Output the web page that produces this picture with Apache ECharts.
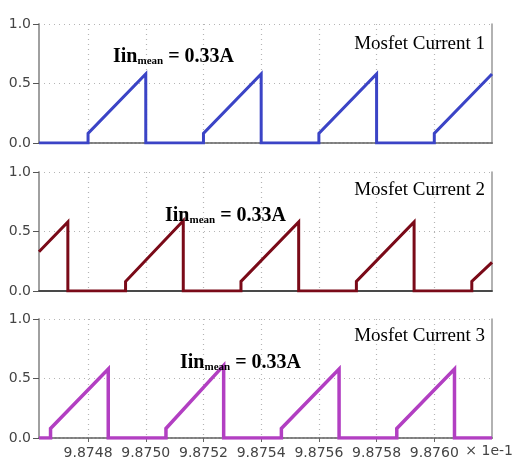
<!DOCTYPE html>
<html>
<head>
<meta charset="utf-8">
<script src="https://cdn.jsdelivr.net/npm/echarts@6/dist/echarts.min.js"></script>
<style>
  html, body { margin: 0; padding: 0; background: #fff; }
  #chart { width: 514px; height: 465px; }
</style>
</head>
<body>
<div id="chart"></div>
<script>
// Time axis (× 1e-1 s) and tick marks
const timeMin = 9.87463;
const timeMax = 9.8762;
const tickValues = [9.8748, 9.8750, 9.8752, 9.8754, 9.8756, 9.8758, 9.8760];
const currentTicks = [0, 0.5, 1.0];

// Mosfet Current 1 (A)
const t1 = [9.87463, 9.8748, 9.8748, 9.8750, 9.8750, 9.8752, 9.8752, 9.8754, 9.8754, 9.8756, 9.8756, 9.8758, 9.8758, 9.8760, 9.8760, 9.8762];
const i1 = [0, 0, 0.08, 0.58, 0, 0, 0.08, 0.58, 0, 0, 0.08, 0.58, 0, 0, 0.08, 0.58];

// Mosfet Current 2 (A)
const t2 = [9.87463, 9.87473, 9.87473, 9.87493, 9.87493, 9.87513, 9.87513, 9.87533, 9.87533, 9.87553, 9.87553, 9.87573, 9.87573, 9.87593, 9.87593, 9.87613, 9.87613, 9.8762];
const i2 = [0.33, 0.58, 0, 0, 0.08, 0.59, 0, 0, 0.08, 0.58, 0, 0, 0.08, 0.58, 0, 0, 0.08, 0.24];

// Mosfet Current 3 (A)
const t3 = [9.87463, 9.87467, 9.87467, 9.87487, 9.87487, 9.87507, 9.87507, 9.87527, 9.87527, 9.87547, 9.87547, 9.87567, 9.87567, 9.87587, 9.87587, 9.87607, 9.87607, 9.8762];
const i3 = [0, 0, 0.08, 0.58, 0, 0, 0.08, 0.61, 0, 0, 0.08, 0.58, 0, 0, 0.08, 0.58, 0, 0];

const panelTitles = ['Mosfet Current 1', 'Mosfet Current 2', 'Mosfet Current 3'];
const meanValue = '0.33A';

const colors = ['#3b44c6', '#7a0a18', '#b23fc2'];
const widths = [3, 3, 3.5];
const gridTops = [24, 172, 319];
const gridH = 119;

const zip = (t, v) => t.map((x, k) => [x, v[k]]);
const seriesData = [zip(t1, i1), zip(t2, i2), zip(t3, i3)];

const labelFont = 'DejaVu Sans';
const dotted = [1, 4];

const grids = [], xAxes = [], yAxes = [], series = [];
for (let g = 0; g < 3; g++) {
  grids.push({ left: 39, right: 22, top: gridTops[g], height: gridH, containLabel: false });
  const isBottom = g === 2;
  xAxes.push({
    type: 'value', gridIndex: g, min: timeMin, max: timeMax,
    axisLine: { show: true, onZero: false, lineStyle: { color: '#8c8c8c', width: 2 } },
    axisTick: { show: isBottom, customValues: tickValues, length: 4, lineStyle: { color: '#666' } },
    axisLabel: {
      show: isBottom, customValues: tickValues, margin: 8,
      fontFamily: labelFont, fontSize: 14, color: '#444',
      formatter: v => v.toFixed(4)
    },
    splitLine: { show: true, lineStyle: { color: '#b5b5b5', type: dotted, width: 1.2 } }
  });
  yAxes.push({
    type: 'value', gridIndex: g, min: 0, max: 1, interval: 0.5,
    axisLine: { show: true, onZero: false, lineStyle: { color: '#a0a0a0', width: 2 } },
    axisTick: { show: true, length: 6, lineStyle: { color: '#555' } },
    axisLabel: {
      margin: 8, fontFamily: labelFont, fontSize: 14, color: '#444',
      formatter: v => v.toFixed(1)
    },
    splitLine: { show: true, lineStyle: { color: '#b5b5b5', type: dotted, width: 1.2 } }
  });
}
// frame: top edge and right edge of each panel
for (let g = 0; g < 3; g++) {
  xAxes.push({
    type: 'value', gridIndex: g, position: 'top', min: timeMin, max: timeMax,
    axisLine: { show: true, lineStyle: g === 1 ? { color: '#333', width: 1.5 } : { color: '#777', type: [1, 3], width: 1.5 } },
    axisTick: { show: false }, axisLabel: { show: false }, splitLine: { show: false }
  });
  yAxes.push({
    type: 'value', gridIndex: g, position: 'right', min: 0, max: 1,
    axisLine: { show: true, lineStyle: { color: '#999', width: 1.5 } },
    axisTick: { show: false }, axisLabel: { show: false }, splitLine: { show: false }
  });
}
for (let g = 0; g < 3; g++) {
  series.push({
    type: 'line', xAxisIndex: g, yAxisIndex: g,
    data: seriesData[g], showSymbol: false, symbol: 'none',
    lineStyle: { color: colors[g], width: widths[g], join: 'miter' },
    z: 5
  });
}

// panel annotations
const titleY = [44, 190, 336];
const meanPos = [[113, 57], [165, 216], [180, 363]];
const graphics = [];
for (let g = 0; g < 3; g++) {
  graphics.push({
    type: 'text', x: 485, y: titleY[g], z: 20,
    style: {
      text: panelTitles[g], align: 'right', verticalAlign: 'middle',
      font: '19px "Liberation Serif"', fill: '#000'
    }
  });
  graphics.push({
    type: 'text', x: meanPos[g][0], y: meanPos[g][1], z: 20,
    style: {
      text: '{a|Iin}{b|mean}{a| = ' + meanValue + '}',
      align: 'left', verticalAlign: 'middle',
      rich: {
        a: { fontFamily: 'Liberation Serif', fontWeight: 'bold', fontSize: 20, fill: '#000', verticalAlign: 'bottom' },
        b: { fontFamily: 'Liberation Serif', fontWeight: 'bold', fontSize: 11, fill: '#000', verticalAlign: 'bottom' }
      }
    }
  });
}
graphics.push({
  type: 'text', x: 513, y: 451, z: 20,
  style: { text: '× 1e-1', align: 'right', verticalAlign: 'middle', font: '14px "DejaVu Sans"', fill: '#444' }
});

const chart = echarts.init(document.getElementById('chart'), null, { renderer: 'canvas' });
chart.setOption({
  animation: false,
  backgroundColor: '#fff',
  grid: grids,
  xAxis: xAxes,
  yAxis: yAxes,
  series: series,
  graphic: graphics
});
</script>
</body>
</html>
